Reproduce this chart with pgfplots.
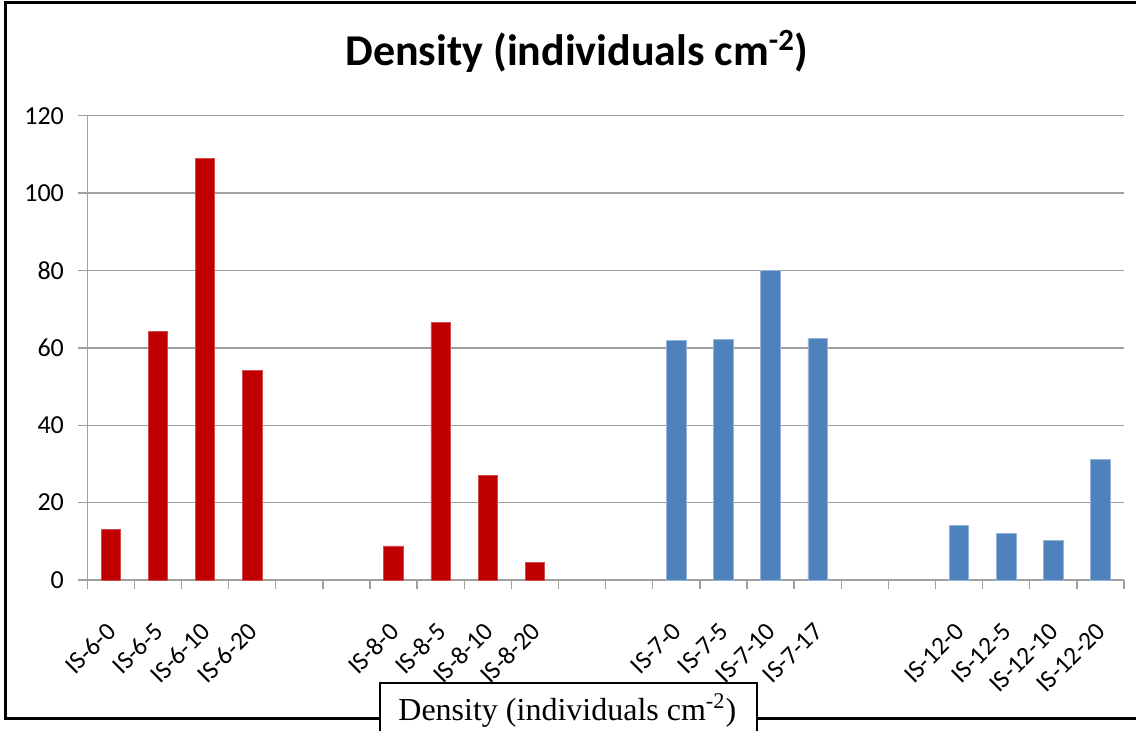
\documentclass[border=0pt]{standalone}
\usepackage{pgfplots}
\pgfplotsset{compat=1.18}
\usepackage{fontspec}
\setmainfont{Carlito}
\newfontfamily\timesfont{Liberation Serif}
\definecolor{redbar}{HTML}{C00000}
\definecolor{bluebar}{HTML}{4F81BD}
\definecolor{gridgray}{HTML}{A0A0A0}
\begin{document}
\begin{tikzpicture}[x=1pt,y=1pt]
\useasboundingbox (0,0) rectangle (568,365.5);
\draw[line width=1.3pt] (575,364.25) -- (2.75,364.25) -- (2.75,6.25) -- (575,6.25);
\node[anchor=base, inner sep=0pt, font=\fontsize{22}{26}\selectfont\bfseries] at (288.5,332.5) {Density (individuals cm\textsuperscript{-2})};
\begin{axis}[
  at={(43.65pt,75.5pt)}, anchor=south west,
  scale only axis, width=518.35pt, height=232.15pt,
  xmin=-0.5, xmax=21.5, ymin=0, ymax=120,
  ytick={0,20,40,60,80,100,120},
  ymajorgrids, grid style={gridgray, line width=0.7pt},
  axis lines*=left,
  axis line style={gridgray, line width=0.7pt},
  tick style={gridgray, line width=0.7pt},
  tick align=outside,
  major tick length=4.5pt,
  xtick={-0.5,0.5,1.5,2.5,3.5,4.5,5.5,6.5,7.5,8.5,9.5,10.5,11.5,12.5,13.5,14.5,15.5,16.5,17.5,18.5,19.5,20.5,21.5},
  xticklabels={},
  extra x ticks={0,1,2,3,6,7,8,9,12,13,14,15,18,19,20,21},
  extra x tick labels={IS-6-0,IS-6-5,IS-6-10,IS-6-20,IS-8-0,IS-8-5,IS-8-10,IS-8-20,IS-7-0,IS-7-5,IS-7-10,IS-7-17,IS-12-0,IS-12-5,IS-12-10,IS-12-20},
  extra x tick style={major tick length=0pt, xmajorgrids=false,
     xticklabel style={xshift=0.5pt, yshift=-23.5pt, rotate=45, anchor=east, inner sep=0pt, font=\fontsize{12.8}{15}\selectfont}},
  yticklabel style={anchor=east, inner sep=0pt, xshift=-7pt, font=\fontsize{13}{15}\selectfont},
  /pgf/number format/assume math mode=true,
  clip=false,
]
\addplot[ybar, bar width=9.75pt, bar shift=0pt, fill=redbar, draw=redbar!70!white, line width=0.4pt]
  coordinates {(0,13) (1,64.3) (2,109) (3,54.1) (6,8.8) (7,66.5) (8,27.1) (9,4.5)};
\addplot[ybar, bar width=9.75pt, bar shift=0pt, fill=bluebar, draw=bluebar!60!white, line width=0.4pt]
  coordinates {(12,61.8) (13,62.2) (14,80.1) (15,62.5) (18,14.2) (19,12.1) (20,10.3) (21,31.2)};
\end{axis}
\draw[fill=white, line width=1pt] (190,24) rectangle (378.5,-5);
\node[anchor=base west, inner sep=0pt, font=\timesfont\fontsize{16}{19}\selectfont] at (199,5) {Density (individuals cm\textsuperscript{-2})};
\end{tikzpicture}
\end{document}
